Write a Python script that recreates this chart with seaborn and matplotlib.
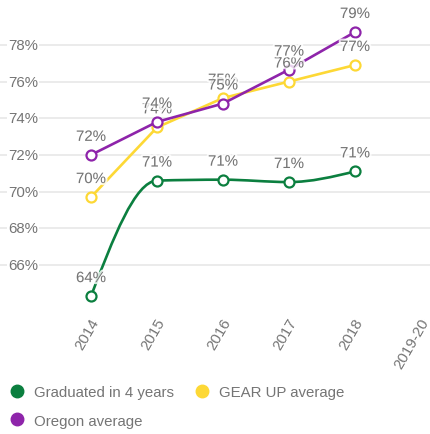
import matplotlib
matplotlib.use("Agg")
import matplotlib.pyplot as plt
import matplotlib.patheffects as pe
import matplotlib.transforms as mtransforms
from matplotlib.path import Path
from matplotlib.patches import PathPatch
from matplotlib.lines import Line2D
import pandas as pd
import seaborn as sns

# data
years = ["2014", "2015", "2016", "2017", "2018", "2019-20"]
graduated = [64.3, 70.6, 70.65, 70.52, 71.1]
gear_up = [69.7, 73.5, 75.1, 76.0, 76.9]
oregon = [72.0, 73.8, 74.8, 76.65, 78.7]
series_names = ["Graduated in 4 years", "GEAR UP average", "Oregon average"]
colors = ["#0b7f3f", "#fdd835", "#8e24aa"]
y_ticks = [66, 68, 70, 72, 74, 76, 78]

sns.set_theme(style="white")
plt.rcParams["font.family"] = ["Liberation Sans", "DejaVu Sans"]
txt_color = "#757575"
fs = 10.8

fig = plt.figure(figsize=(4.3, 4.35), dpi=100)
ax = fig.add_axes([0, 125 / 435, 1, 310 / 435])

xs = list(range(len(graduated)))
df = pd.DataFrame({"x": xs, "grad": graduated, "gear": gear_up, "oregon": oregon})


def monotone_path(x, y):
    # monotone cubic (d3 monotoneX style) as bezier segments
    n = len(x)
    d = [y[i + 1] - y[i] for i in range(n - 1)]
    m = [0.0] * n
    for i in range(1, n - 1):
        if d[i - 1] * d[i] > 0:
            m[i] = 2 * d[i - 1] * d[i] / (d[i - 1] + d[i])
    m[0] = (3 * d[0] - m[1]) / 2
    m[-1] = (3 * d[-1] - m[-2]) / 2
    verts = [(x[0], y[0])]
    codes = [Path.MOVETO]
    for i in range(n - 1):
        verts += [(x[i] + 1 / 3, y[i] + m[i] / 3),
                  (x[i + 1] - 1 / 3, y[i + 1] - m[i + 1] / 3),
                  (x[i + 1], y[i + 1])]
        codes += [Path.CURVE4] * 3
    return Path(verts, codes)


lw = 1.9
ms = 7.2
mew = 1.6

# green: smoothed line
ax.add_patch(PathPatch(monotone_path(xs, graduated), fill=False,
                       edgecolor=colors[0], lw=lw, zorder=2))
sns.lineplot(data=df, x="x", y="grad", ax=ax, linestyle="none", marker="o",
             markersize=ms, markerfacecolor="white", markeredgecolor=colors[0],
             markeredgewidth=mew, zorder=3)
sns.lineplot(data=df, x="x", y="gear", ax=ax, color=colors[1], lw=lw, marker="o",
             markersize=ms, markerfacecolor="white", markeredgecolor=colors[1],
             markeredgewidth=mew, zorder=4)
sns.lineplot(data=df, x="x", y="oregon", ax=ax, color=colors[2], lw=lw, marker="o",
             markersize=ms, markerfacecolor="white", markeredgecolor=colors[2],
             markeredgewidth=mew, zorder=5)

halo = [pe.withStroke(linewidth=3, foreground=(1, 1, 1, 0.8))]
for vals in (graduated, gear_up, oregon):
    for x, v in zip(xs, vals):
        ax.annotate(f"{v:.0f}%", (x, v), xytext=(0, 13), textcoords="offset points",
                    ha="center", va="center", fontsize=fs, color=txt_color,
                    path_effects=halo, zorder=6)

ax.set_xlim(-91 / 66, (430 - 91) / 66)
ax.set_ylim(63.6, 80.5)
ax.set_yticks(y_ticks)
ax.set_yticklabels([])
ax.yaxis.grid(True, color="#e6e6e6", lw=1.1)
ax.xaxis.grid(False)
ax.tick_params(length=0)
for s in ax.spines.values():
    s.set_visible(False)
ax.set_xlabel("")
ax.set_ylabel("")

trans = mtransforms.blended_transform_factory(ax.transAxes, ax.transData)
for t in y_ticks:
    ax.text(8 / 430, t, f"{t}%", transform=trans, ha="left", va="center",
            fontsize=fs, color=txt_color, zorder=3,
            bbox=dict(boxstyle="square,pad=0.05", fc="white", ec="none"))

ax.set_xticks(range(len(years)))
ax.set_xticklabels(years, rotation=60, ha="right", va="center",
                   rotation_mode="anchor", fontsize=fs, color=txt_color)
ax.tick_params(axis="x", pad=7)
offset = mtransforms.ScaledTranslation(5 / 100, 0, fig.dpi_scale_trans)
for lab in ax.get_xticklabels():
    lab.set_transform(lab.get_transform() + offset)

# matplotlib fills legend columns first, so reorder to read row-wise
order = [0, 2, 1]
handles = [Line2D([], [], ls="none", marker="o", markersize=9, color=colors[i]) for i in order]
fig.legend(handles, [series_names[i] for i in order], loc="upper left",
           bbox_to_anchor=(0.021, 0.1115), ncol=2, frameon=False, fontsize=fs,
           labelcolor=txt_color, handletextpad=0.65, columnspacing=1.37,
           handlelength=1.0, borderaxespad=0, borderpad=0.0, labelspacing=0.95)

fig.savefig("out.png", dpi=100)
